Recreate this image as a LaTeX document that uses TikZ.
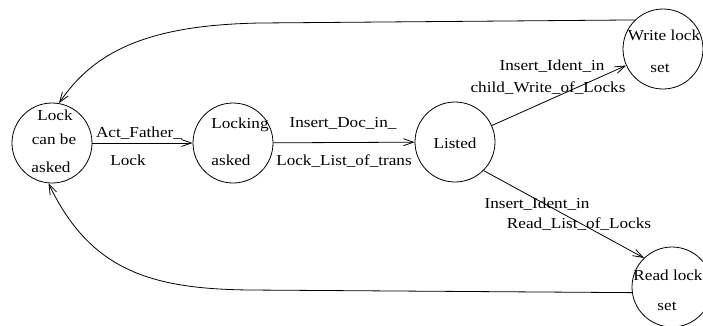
\documentclass[tikz,border=0pt]{standalone}
\usepackage{fontspec}
\setmainfont{Liberation Serif}[FakeStretch=1.13]
\usetikzlibrary{arrows.meta}
\tikzset{
  state/.style={draw, circle, minimum size=80pt, inner sep=0pt, line width=0.8pt},
  txt/.style={anchor=base, inner sep=0pt, font=\fontsize{15.2}{18}\selectfont},
  arr/.style={line width=0.8pt, -{Straight Barb[length=10pt,width=7pt,line width=0.8pt]}}
}
\begin{document}
\begin{tikzpicture}[x=1pt,y=-1pt]
\useasboundingbox (0,0) rectangle (703,325);
% states
\node[state] (lock) at (52,143) {};
\node[state] (locking) at (233,143) {};
\node[state] (listed) at (455,142) {};
\node[state] (write) at (663,49) {};
\node[state] (read) at (672,287) {};
% state texts
\node[txt] (t1) at (55,120) {Lock};
\node[txt] (t2) at (54,144) {can be};
\node[txt] (t3) at (51,172) {asked};
\node[txt] (t4) at (240,128) {Locking};
\node[txt] (t5) at (231,165) {asked};
\node[txt] (t6) at (455,148) {Listed};
\node[txt] (t7) at (664,40) {Write lock};
\node[txt] (t8) at (660,72) {set};
\node[txt] (t9) at (668,280) {Read lock};
\node[txt] (t10) at (667,310) {set};
% edges
\draw[arr] (lock) -- (locking);
\draw[arr] (locking) -- (listed);
\draw[arr] (listed) -- (write);
\draw[arr] (listed.-45) -- (read.134);
\coordinate (c1) at (260,23);
\coordinate (c2) at (250,290);
\draw[arr] (write.134) -- (c1) .. controls (150,25) and (95,50) .. (lock.80);
\draw[arr] (read.188) -- (c2) .. controls (150,289) and (90,270) .. (lock.-95);
% edge labels
\node[txt] (l1) at (139,137) {Act\_Father\_};
\node[txt] (l2) at (128,165) {Lock};
\node[txt] (l3) at (343,127) {Insert\_Doc\_in\_};
\node[txt] (l4) at (344,165) {Lock\_List\_of\_trans};
\node[txt] (l5) at (552,70) {Insert\_Ident\_in};
\node[txt] (l6) at (548,92) {child\_Write\_of\_Locks};
\node[txt] (l7) at (537,208) {Insert\_Ident\_in};
\node[txt] (l8) at (579,228) {Read\_List\_of\_Locks};
\end{tikzpicture}
\end{document}
